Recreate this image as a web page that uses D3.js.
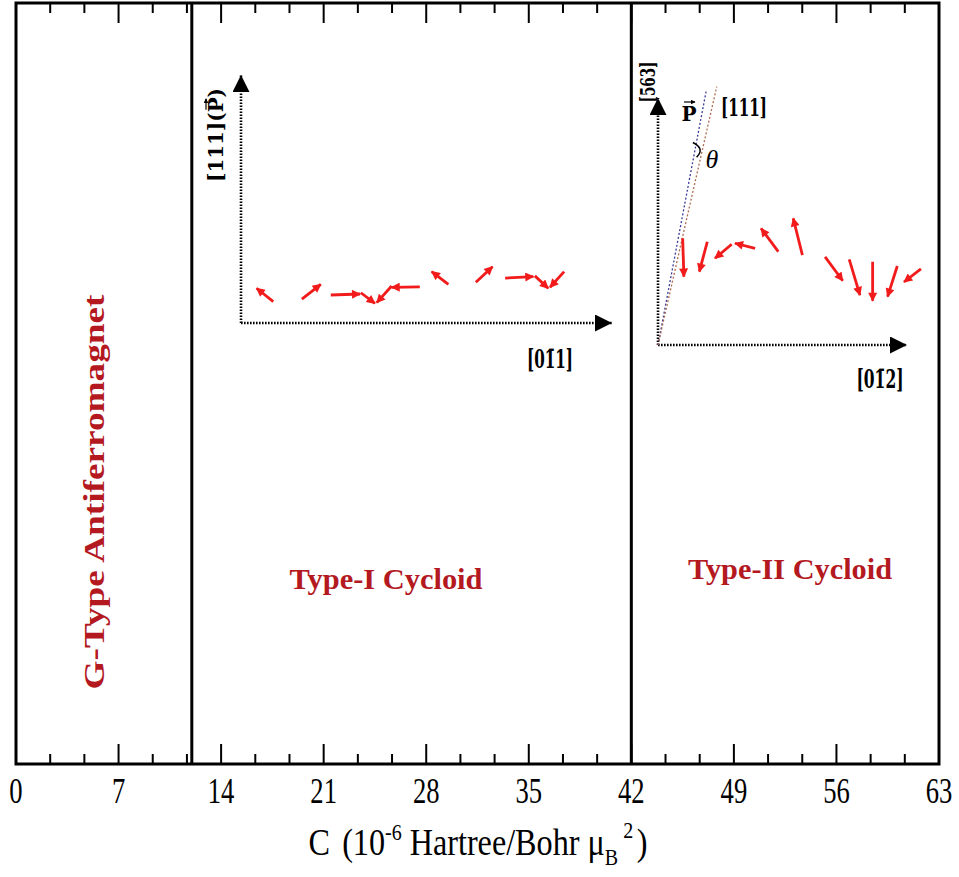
<!DOCTYPE html>
<html><head><meta charset="utf-8">
<script src="https://cdn.jsdelivr.net/npm/d3@7"></script>
<style>body{margin:0;background:#fff}svg{display:block}</style>
</head><body>
<svg id="chart" width="959" height="877"></svg>
<script>
// ---------- data ----------
const xDomain = [0, 63];
const xTickLabels = [0, 7, 14, 21, 28, 35, 42, 49, 56, 63];
const phaseBoundaries = [12, 42];
const phaseNames = ["G-Type Antiferromagnet", "Type-I Cycloid", "Type-II Cycloid"];
// Type-I cycloid spins (inset units 0-100): [tailX, tailY, tipX, tipY]
const typeISpins = [
  [8.7, 8.6, 4.2, 14.0],
  [16.4, 9.6, 21.5, 15.6],
  [24.2, 11.3, 32.1, 11.7],
  [32.3, 12.2, 36.1, 7.9],
  [40.6, 14.9, 36.6, 8.2],
  [48.2, 14.6, 40.6, 14.4],
  [55.9, 15.6, 51.4, 20.7],
  [63.3, 16.4, 67.8, 22.7],
  [71.2, 18.1, 78.8, 18.7],
  [79.2, 19.0, 82.8, 14.0],
  [87.1, 20.7, 83.3, 14.4]
];
// Type-II cycloid spins (inset units 0-100): [tailX, tailY, tipX, tipY]
const typeIISpins = [
  [9.9, 43.2, 10.4, 27.7],
  [19.8, 41.8, 16.6, 29.7],
  [29.6, 40.8, 22.9, 35.1],
  [39.0, 39.1, 30.9, 41.2],
  [48.3, 37.8, 41.4, 47.2],
  [58.0, 36.4, 54.3, 51.3],
  [67.1, 35.7, 74.2, 26.0],
  [76.8, 34.7, 81.1, 20.2],
  [86.2, 33.7, 86.2, 17.9],
  [96.1, 32.0, 92.2, 19.6],
  [105.6, 30.8, 98.8, 25.5]
];
// Type-II direction lines (inset units): P and [111]
const typeIIDirP = [19.3, 102.6];
const typeIIDir111 = [23.6, 104.6];

// ---------- setup ----------
const svg = d3.select("#chart");
const plot = {left: 16, right: 939, top: 3, bottom: 764};
const x = d3.scaleLinear().domain(xDomain).range([plot.left, plot.right]);
const y = d3.scaleLinear().domain([0, 1]).range([plot.bottom, plot.top]);

const red = "#b3191f";
const spinRed = "#f21b1b";
const serif = "'Liberation Serif','Times New Roman',serif";
const slab = "'DejaVu Serif',serif";

const defs = svg.append("defs");
defs.append("marker").attr("id", "spinHead").attr("viewBox", "0 0 10 10")
  .attr("refX", 9).attr("refY", 5).attr("markerWidth", 11).attr("markerHeight", 9)
  .attr("markerUnits", "userSpaceOnUse").attr("orient", "auto")
  .append("path").attr("d", "M0,0L10,5L0,10z").attr("fill", spinRed);
defs.append("marker").attr("id", "axHead").attr("viewBox", "0 0 10 10")
  .attr("refX", 10).attr("refY", 5).attr("markerWidth", 24).attr("markerHeight", 17)
  .attr("markerUnits", "userSpaceOnUse").attr("orient", "auto")
  .append("path").attr("d", "M0,0L10,5L0,10z").attr("fill", "#000");
defs.append("marker").attr("id", "vecHead").attr("viewBox", "0 0 10 10")
  .attr("refX", 9).attr("refY", 5).attr("markerWidth", 5).attr("markerHeight", 5)
  .attr("markerUnits", "userSpaceOnUse").attr("orient", "auto")
  .append("path").attr("d", "M0,0L10,5L0,10z").attr("fill", "#000");

// ---------- axes / frame ----------
const majorTicks = xTickLabels;
const minorTicks = d3.range(0, 63.001, 7 / 3).filter(v => Math.abs(v / 7 - Math.round(v / 7)) > 1e-6);

const bottomAxis = d3.axisBottom(x).tickValues(majorTicks).tickSize(0).tickFormat(d3.format("d"));
const gB = svg.append("g").attr("transform", `translate(0,${plot.bottom})`).call(bottomAxis);
gB.select(".domain").remove();
gB.selectAll(".tick text").remove();

const tickG = svg.append("g").attr("stroke", "#000").attr("stroke-width", 2);
[[majorTicks, 20], [minorTicks, 10]].forEach(([vals, len]) => {
  tickG.selectAll(null).data(vals).enter().append("line")
    .attr("x1", d => x(d)).attr("x2", d => x(d))
    .attr("y1", plot.bottom).attr("y2", plot.bottom - len);
  tickG.selectAll(null).data(vals).enter().append("line")
    .attr("x1", d => x(d)).attr("x2", d => x(d))
    .attr("y1", plot.top).attr("y2", plot.top + len);
});

svg.append("g").selectAll("text").data(xTickLabels).enter().append("text")
  .attr("transform", d => `translate(${x(d)},803) scale(0.74,1)`)
  .attr("text-anchor", "middle").attr("font-family", serif).attr("font-size", 36)
  .attr("fill", "#000").text(d => d);

// axis title
const title = svg.append("text").attr("transform", `translate(478,855) scale(0.87,1)`)
  .attr("text-anchor", "middle").attr("font-family", serif).attr("font-size", 37).attr("fill", "#000");
title.append("tspan").text("C");
title.append("tspan").attr("dx", 14).text("(10");
title.append("tspan").attr("dy", -15).attr("font-size", 23).text("-6");
title.append("tspan").attr("dy", 15).text(" Hartree/Bohr \u03bc");
title.append("tspan").attr("dy", 10).attr("font-size", 23).text("B");
title.append("tspan").attr("dy", -27).attr("dx", 6).attr("font-size", 23).text("2");
title.append("tspan").attr("dy", 17).attr("dx", 4).text(")");

// phase boundaries
svg.append("g").selectAll("line").data(phaseBoundaries).enter().append("line")
  .attr("x1", d => x(d)).attr("x2", d => x(d)).attr("y1", plot.top).attr("y2", plot.bottom)
  .attr("stroke", "#000").attr("stroke-width", 3);

svg.append("rect").attr("x", plot.left).attr("y", plot.top)
  .attr("width", plot.right - plot.left).attr("height", plot.bottom - plot.top)
  .attr("fill", "none").attr("stroke", "#000").attr("stroke-width", 3);

// phase labels
svg.append("text").attr("transform", `translate(104,492) rotate(-90)`)
  .attr("text-anchor", "middle").attr("font-family", serif).attr("font-weight", "bold")
  .attr("font-size", 30).attr("fill", red)
  .attr("textLength", 395).attr("lengthAdjust", "spacingAndGlyphs").text(phaseNames[0]);
svg.append("text").attr("x", 386).attr("y", 589).attr("text-anchor", "middle")
  .attr("font-family", serif).attr("font-weight", "bold").attr("font-size", 30).attr("fill", red)
  .attr("textLength", 193).attr("lengthAdjust", "spacingAndGlyphs").text(phaseNames[1]);
svg.append("text").attr("x", 790).attr("y", 579).attr("text-anchor", "middle")
  .attr("font-family", serif).attr("font-weight", "bold").attr("font-size", 30).attr("fill", red)
  .attr("textLength", 204).attr("lengthAdjust", "spacingAndGlyphs").text(phaseNames[2]);

// ---------- inset helpers ----------
function drawSpins(g, data, sx, sy) {
  g.selectAll(null).data(data).enter().append("line")
    .attr("x1", d => sx(d[0])).attr("y1", d => sy(d[1]))
    .attr("x2", d => sx(d[2])).attr("y2", d => sy(d[3]))
    .attr("stroke", spinRed).attr("stroke-width", 2.8).attr("marker-end", "url(#spinHead)");
}
function dottedAxis(g, x1, y1, x2, y2) {
  g.append("line").attr("x1", x1).attr("y1", y1).attr("x2", x2).attr("y2", y2)
    .attr("stroke", "#000").attr("stroke-width", 2.6).attr("stroke-dasharray", "1.6,1.4")
    .attr("marker-end", "url(#axHead)");
}
function vecArrow(g, x1, x2, yy) {
  g.append("line").attr("x1", x1).attr("x2", x2).attr("y1", yy).attr("y2", yy)
    .attr("stroke", "#000").attr("stroke-width", 1.2).attr("marker-end", "url(#vecHead)");
}

// ---------- Type-I inset ----------
const i1x = d3.scaleLinear().domain([0, 100]).range([241, 612]);
const i1y = d3.scaleLinear().domain([0, 100]).range([323, 75]);
const g1 = svg.append("g");
dottedAxis(g1, i1x(0), i1y(0), i1x(0), i1y(100));
dottedAxis(g1, i1x(0), i1y(0), i1x(100), i1y(0));
drawSpins(g1, typeISpins, i1x, i1y);
g1.append("text").attr("x", 550).attr("y", 368).attr("text-anchor", "middle")
  .attr("font-family", slab).attr("font-weight", "bold").attr("font-size", 26).attr("fill", "#000")
  .attr("textLength", 46).attr("lengthAdjust", "spacingAndGlyphs").text("[01\u03041]");
// rotated [111](P)
const r1 = g1.append("g").attr("transform", "translate(223,135) rotate(-90)");
const r1t = r1.append("text").attr("text-anchor", "middle").attr("font-family", slab)
  .attr("font-weight", "bold").attr("font-size", 20).attr("fill", "#000")
  .attr("textLength", 94).attr("lengthAdjust", "spacingAndGlyphs").text("[111](P)");
{
  const tmp = r1.append("text").attr("font-family", slab).attr("font-weight", "bold").attr("font-size", 20).text("[111](P)");
  const natural = tmp.node().getComputedTextLength();
  tmp.text("[111](");
  const pre = tmp.node().getComputedTextLength();
  tmp.text("P");
  const pw = tmp.node().getComputedTextLength();
  tmp.remove();
  const k = 94 / natural;
  const px = -47 + (pre + pw / 2) * k;
  vecArrow(r1, px - 5, px + 6, -17);
}

// ---------- Type-II inset ----------
const i2x = d3.scaleLinear().domain([0, 100]).range([658, 907]);
const i2y = d3.scaleLinear().domain([0, 100]).range([345, 98]);
const g2 = svg.append("g");
dottedAxis(g2, i2x(0), i2y(0), i2x(0), i2y(100));
dottedAxis(g2, i2x(0), i2y(0), i2x(100), i2y(0));
g2.append("line").attr("x1", i2x(0)).attr("y1", i2y(0)).attr("x2", i2x(typeIIDirP[0])).attr("y2", i2y(typeIIDirP[1]))
  .attr("stroke", "#3a3a9a").attr("stroke-width", 1.3).attr("stroke-dasharray", "2,2");
g2.append("line").attr("x1", i2x(0)).attr("y1", i2y(0)).attr("x2", i2x(typeIIDir111[0])).attr("y2", i2y(typeIIDir111[1]))
  .attr("stroke", "#b06a50").attr("stroke-width", 1.3).attr("stroke-dasharray", "2,2");
drawSpins(g2, typeIISpins, i2x, i2y);
g2.append("text").attr("x", 880).attr("y", 388).attr("text-anchor", "middle")
  .attr("font-family", slab).attr("font-weight", "bold").attr("font-size", 26).attr("fill", "#000")
  .attr("textLength", 47).attr("lengthAdjust", "spacingAndGlyphs").text("[01\u03042]");
g2.append("text").attr("transform", "translate(655,82) rotate(-90)").attr("text-anchor", "middle")
  .attr("font-family", slab).attr("font-weight", "bold").attr("font-size", 21).attr("fill", "#000")
  .attr("textLength", 41).attr("lengthAdjust", "spacingAndGlyphs").text("[563]");
g2.append("text").attr("x", 689).attr("y", 121).attr("text-anchor", "middle")
  .attr("font-family", slab).attr("font-weight", "bold").attr("font-size", 20).text("P");
vecArrow(g2, 684, 695, 102);
g2.append("text").attr("x", 744).attr("y", 116).attr("text-anchor", "middle")
  .attr("font-family", slab).attr("font-weight", "bold").attr("font-size", 24)
  .attr("textLength", 46).attr("lengthAdjust", "spacingAndGlyphs").text("[111]");
g2.append("path").attr("d", `M${i2x(14)},${i2y(82)} Q${i2x(19)},${i2y(79.5)} ${i2x(15.5)},${i2y(76)}`)
  .attr("fill", "none").attr("stroke", "#000").attr("stroke-width", 1.5);
g2.append("text").attr("x", 712).attr("y", 168).attr("text-anchor", "middle")
  .attr("font-family", serif).attr("font-style", "italic").attr("font-size", 26).text("\u03b8");
</script>
</body></html>
